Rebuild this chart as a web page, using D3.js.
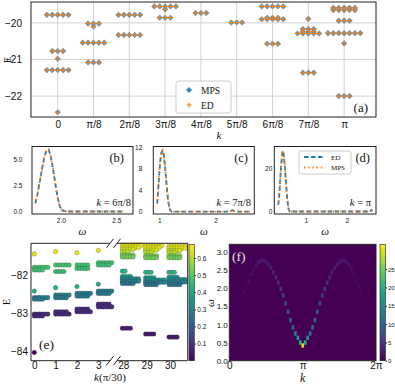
<!DOCTYPE html>
<html>
<head>
<meta charset="utf-8">
<script src="https://cdn.jsdelivr.net/npm/d3@7"></script>
<style>
  body { margin: 0; background: #fff; }
  svg { display: block; font-family: "Liberation Serif", "DejaVu Serif", serif; }
</style>
</head>
<body>
<svg width="395" height="388"></svg>
<script>
// ---------- (a) spectrum vs k, each level is [E, degeneracy] ----------
const kLabelsA = ["0", "π/8", "2π/8", "3π/8", "4π/8", "5π/8", "6π/8", "7π/8", "π"];
const eTicksA = [-22, -21, -20];
const levelsA = [
  [[-19.78, 5], [-20.77, 3], [-20.98, 1], [-21.29, 5], [-22.44, 1]],
  [[-20.02, 3], [-20.10, 1], [-20.54, 5], [-21.08, 3]],
  [[-19.78, 5], [-20.33, 5]],
  [[-19.55, 5], [-19.63, 1], [-19.86, 3]],
  [[-19.73, 3]],
  [[-19.99, 3]],
  [[-19.55, 5], [-19.86, 3], [-19.90, 5], [-20.57, 3]],
  [[-19.89, 1], [-20.17, 3], [-20.24, 3], [-20.29, 5], [-21.36, 3]],
  [[-19.59, 5], [-19.65, 5], [-19.94, 3], [-20.28, 7], [-20.56, 1], [-22.00, 3]],
];

// ---------- (b)-(d) spectral functions ----------
const omegaB = [1.77, 1.79, 1.81, 1.83, 1.85, 1.87, 1.89, 1.91, 1.93, 1.95, 1.97, 1.99, 2.01, 2.05, 2.2, 2.4, 2.57];
const edB = [0.8, 1.7, 2.9, 4.1, 5.2, 5.9, 6.0, 5.3, 4.1, 2.7, 1.4, 0.5, 0.1, 0, 0, 0, 0];
const mpsB = [0.8, 1.7, 2.9, 4.1, 5.2, 5.9, 6.0, 5.3, 4.1, 2.7, 1.4, 0.5, 0.1, 0, 0, 0, 0];

const omegaC = [0.965, 0.98, 1.0, 1.02, 1.04, 1.06, 1.08, 1.1, 1.12, 1.14, 1.16, 1.18, 1.2, 1.22, 1.5, 2.0, 2.2, 2.27, 2.3, 2.33, 2.4, 2.62];
const edC = [1.5, 3.8, 7.0, 9.6, 11.0, 11.4, 10.6, 8.8, 6.3, 3.8, 1.9, 0.7, 0.15, 0, 0, 0, 0, 0.1, 0.25, 0.1, 0, 0];
const mpsC = [1.5, 3.8, 7.0, 9.6, 11.0, 11.4, 10.6, 8.8, 6.3, 3.8, 1.9, 0.7, 0.15, 0, 0, 0, 0, 0.1, 0.25, 0.1, 0, 0];

const omegaD = [0.33, 0.36, 0.39, 0.42, 0.44, 0.46, 0.49, 0.52, 0.55, 0.58, 0.61, 1.0, 2.0, 2.5, 2.57, 2.6, 2.63];
const edD = [3, 9, 18, 25.5, 28, 26.5, 21, 13, 5.5, 1.2, 0, 0, 0, 0, 0.3, 0.6, 0.3];
const mpsD = [3, 9, 18, 25.5, 28, 26.5, 21, 13, 5.5, 1.2, 0, 0, 0, 0, 0.3, 0.6, 0.3];

// ---------- (e) spectrum, rows are [E, degeneracy, colour value] ----------
const kTicksE = [0, 1, 2, 3, 28, 29, 30];
const eTicksE = [-84, -83, -82];
const cbTicksE = [0.1, 0.2, 0.3, 0.4, 0.5, 0.6];
const levelsE = [
  [[-81.45, 1, 0.65], [-81.80, 6, 0.48], [-81.87, 4, 0.47], [-82.42, 1, 0.42], [-82.59, 6, 0.29], [-82.63, 4, 0.28], [-83.02, 6, 0.09], [-83.07, 4, 0.08], [-84.02, 1, 0.0]],
  [[-81.39, 1, 0.65], [-81.74, 6, 0.48], [-81.91, 4, 0.46], [-82.33, 1, 0.42], [-82.52, 6, 0.29], [-82.59, 5, 0.27], [-82.96, 5, 0.09], [-83.02, 6, 0.08]],
  [[-81.42, 1, 0.65], [-81.74, 5, 0.48], [-81.83, 5, 0.47], [-82.30, 1, 0.42], [-82.48, 6, 0.29], [-82.55, 5, 0.27], [-82.89, 5, 0.09], [-82.96, 6, 0.08]],
  [[-81.36, 1, 0.65], [-81.68, 6, 0.48], [-81.74, 5, 0.47], [-82.24, 1, 0.42], [-82.42, 6, 0.29], [-82.48, 5, 0.27], [-82.76, 5, 0.09], [-82.83, 6, 0.08]],
  [[-81.22, 8, 0.66], [-81.28, 7, 0.65], [-81.33, 5, 0.63], [-81.39, 3, 0.61], [-81.48, 5, 0.54], [-81.53, 5, 0.53], [-81.90, 2, 0.44], [-82.04, 4, 0.37], [-82.10, 7, 0.33], [-82.16, 7, 0.29], [-82.22, 5, 0.25], [-83.39, 4, 0.05]],
  [[-81.24, 7, 0.66], [-81.29, 6, 0.65], [-81.35, 5, 0.63], [-81.41, 3, 0.61], [-81.50, 5, 0.54], [-81.55, 5, 0.53], [-81.93, 3, 0.44], [-82.07, 4, 0.37], [-82.13, 8, 0.33], [-82.19, 8, 0.29], [-82.25, 5, 0.25], [-83.54, 4, 0.05]],
  [[-81.25, 7, 0.66], [-81.30, 7, 0.65], [-81.36, 5, 0.63], [-81.41, 3, 0.61], [-81.50, 5, 0.54], [-81.55, 5, 0.53], [-81.93, 3, 0.44], [-82.06, 4, 0.37], [-82.12, 7, 0.33], [-82.18, 7, 0.29], [-82.25, 5, 0.25], [-83.62, 4, 0.05]],
];

// ---------- (f) dynamical structure factor, k = n*pi/30 ----------
const peakOmegaF = [1.40, 1.42, 1.46, 1.52, 1.61, 1.75, 1.92, 2.06, 2.20, 2.38, 2.52, 2.64, 2.72, 2.76, 2.76, 2.72, 2.65, 2.56, 2.44, 2.30, 2.15, 1.98, 1.80, 1.58, 1.35, 1.12, 0.92, 0.75, 0.63, 0.50, 0.42,
  0.50, 0.63, 0.75, 0.92, 1.12, 1.35, 1.58, 1.80, 1.98, 2.15, 2.30, 2.44, 2.56, 2.65, 2.72, 2.76, 2.76, 2.72, 2.64, 2.52, 2.38, 2.20, 2.06, 1.92, 1.75, 1.61, 1.52, 1.46, 1.42, 1.40];
const peakWeightF = [0.2, 0.2, 0.2, 0.3, 0.3, 0.4, 0.5, 0.7, 0.9, 1.1, 1.3, 1.5, 1.7, 1.8, 1.9, 2.0, 2.2, 2.5, 2.9, 3.4, 4.1, 4.9, 5.9, 7.0, 8.5, 9.5, 11, 13, 16, 20, 30,
  20, 16, 13, 11, 9.5, 8.5, 7.0, 5.9, 4.9, 4.1, 3.4, 2.9, 2.5, 2.2, 2.0, 1.9, 1.8, 1.7, 1.5, 1.3, 1.1, 0.9, 0.7, 0.5, 0.4, 0.3, 0.3, 0.2, 0.2, 0.2];
const omegaTicksF = [0, 0.5, 1.0, 1.5, 2.0, 2.5, 3.0];
const cbTicksF = [0, 5, 10, 15, 20, 25];

const svg = d3.select("svg");
const blue = "#1f77b4", orange = "#ff7f0e";

function styleAxis(sel, size) {
  sel.select(".domain").remove();
  sel.selectAll("text").attr("font-size", size).attr("fill", "#111");
  sel.selectAll("line").attr("stroke", "#222");
}
function box(x0, y0, x1, y1) {
  svg.append("rect").attr("x", x0).attr("y", y0).attr("width", x1 - x0).attr("height", y1 - y0)
    .attr("fill", "none").attr("stroke", "#222").attr("stroke-width", 1);
}
function label(x, y, parts, size, anchor, color) {
  const t = svg.append("text").attr("x", x).attr("y", y).attr("font-size", size)
    .attr("text-anchor", anchor || "start").attr("fill", color || "#111");
  parts.forEach(p => t.append("tspan").attr("font-style", p[1] ? "italic" : "normal").text(p[0]));
  return t;
}

// ================= (a) =================
const xA = d3.scaleLinear().domain([-0.745, 8.89]).range([31, 376]);
const yA = d3.scaleLinear().domain([-22.57, -19.43]).range([117, 2]);
const gA = svg.append("g");
gA.selectAll(".gx").data(d3.range(kLabelsA.length)).join("line")
  .attr("x1", d => xA(d)).attr("x2", d => xA(d)).attr("y1", 2).attr("y2", 117)
  .attr("stroke", "#d3d3d3").attr("stroke-width", 1);
gA.selectAll(".gy").data(eTicksA).join("line")
  .attr("x1", 31).attr("x2", 376).attr("y1", d => yA(d)).attr("y2", d => yA(d))
  .attr("stroke", "#d3d3d3").attr("stroke-width", 1);

const ptsA = [];
levelsA.forEach((lv, i) => lv.forEach(([e, n]) => {
  for (let j = 0; j < n; j++) ptsA.push({ x: xA(i) + (j - (n - 1) / 2) * 5.4, y: yA(e) });
}));
const diamond = d3.symbol(d3.symbolSquare, 19)();
const plus = "M-2.6,0H2.6M0,-2.6V2.6";
gA.selectAll(".mps").data(ptsA).join("path").attr("d", diamond)
  .attr("transform", d => `translate(${d.x},${d.y}) rotate(45)`).attr("fill", "#4b93c8");
gA.selectAll(".ed").data(ptsA).join("path").attr("d", plus)
  .attr("transform", d => `translate(${d.x},${d.y})`).attr("stroke", orange).attr("stroke-width", 1);

gA.append("g").attr("transform", "translate(0,117)")
  .call(d3.axisBottom(xA).tickValues(d3.range(kLabelsA.length)).tickFormat(i => kLabelsA[i]).tickSize(0).tickPadding(4))
  .call(styleAxis, 10);
gA.append("g").attr("transform", "translate(31,0)")
  .call(d3.axisLeft(yA).tickValues(eTicksA).tickFormat(d => "−" + Math.abs(d)).tickSize(0).tickPadding(9))
  .call(styleAxis, 10);
box(31, 2, 376, 117);
label(219, 139, [["k", true]], 11, "middle");
label(11, 60, [["E", false]], 10, "middle").attr("transform", "rotate(-90,11,60)");

// legend (a)
svg.append("rect").attr("x", 176).attr("y", 81).attr("width", 55).attr("height", 32).attr("rx", 2.5)
  .attr("fill", "#fff").attr("fill-opacity", 0.85).attr("stroke", "#ccc");
svg.append("path").attr("d", diamond).attr("transform", "translate(189,90) rotate(45)").attr("fill", "#3d88c2");
svg.append("path").attr("d", plus).attr("transform", "translate(189,105)").attr("stroke", orange).attr("stroke-width", 1.2);
label(201, 93.5, [["MPS", false]], 9.5);
label(201, 108.5, [["ED", false]], 9.5);
label(368, 112, [["(a)", false]], 13, "end");

// ================= (b)-(d) =================
function specPanel(cfg) {
  const x = d3.scaleLinear().domain(cfg.xd).range([cfg.x0, cfg.x1]);
  const y = d3.scaleLinear().domain(cfg.yd).range([214, 146.5]);
  const line = d3.line().x(d => x(d[0])).y(d => y(d[1]));
  svg.append("path").datum(d3.zip(cfg.om, cfg.ed)).attr("d", line).attr("fill", "none")
    .attr("stroke", blue).attr("stroke-width", 1.8).attr("stroke-dasharray", "4.5,2.5");
  svg.append("path").datum(d3.zip(cfg.om, cfg.mps)).attr("d", line).attr("fill", "none")
    .attr("stroke", orange).attr("stroke-width", 1.8).attr("stroke-dasharray", "1.4,2.4")
    .attr("stroke-dashoffset", -3.2).attr("stroke-linecap", "butt");
  svg.append("g").attr("transform", "translate(0,214)")
    .call(d3.axisBottom(x).tickValues(cfg.xt).tickFormat(cfg.xf).tickSize(0).tickPadding(4.5))
    .call(styleAxis, 6.5);
  svg.append("g").attr("transform", `translate(${cfg.x0},0)`)
    .call(d3.axisLeft(y).tickValues(cfg.yt).tickFormat(cfg.yf).tickSize(0).tickPadding(cfg.pad))
    .call(styleAxis, 6.5);
  box(cfg.x0, 146.5, cfg.x1, 214);
  label((cfg.x0 + cfg.x1) / 2, 235, [["ω", true]], 11, "middle");
}
specPanel({ x0: 32, x1: 133, xd: [1.74, 2.65], yd: [-0.24, 6.29], om: omegaB, ed: edB, mps: mpsB,
  xt: [2.0, 2.5], xf: d3.format(".1f"), yt: [0, 2.5, 5], yf: d3.format(".1f"), pad: 9.5 });
specPanel({ x0: 153.3, x1: 254.3, xd: [0.895, 2.686], yd: [-0.46, 12.13], om: omegaC, ed: edC, mps: mpsC,
  xt: [1, 2], xf: d3.format("d"), yt: [0, 4, 8, 12], yf: d3.format("d"), pad: 11 });
specPanel({ x0: 274.3, x1: 376, xd: [0.234, 2.71], yd: [-1.14, 29.9], om: omegaD, ed: edD, mps: mpsD,
  xt: [1, 2], xf: d3.format("d"), yt: [0, 20], yf: d3.format("d"), pad: 2 });

label(124, 162, [["(b)", false]], 12.5, "end");
label(248, 162, [["(c)", false]], 12.5, "end");
label(370, 162, [["(d)", false]], 12.5, "end");
label(131, 206, [["k", true], [" = 6π/8", false]], 10.5, "end");
label(251, 206, [["k", true], [" = 7π/8", false]], 10.5, "end");
label(371, 206, [["k", true], [" = π", false]], 10.5, "end");

// legend (d)
svg.append("rect").attr("x", 299).attr("y", 151).attr("width", 52).attr("height", 23).attr("rx", 2)
  .attr("fill", "#fff").attr("fill-opacity", 0.85).attr("stroke", "#ccc");
svg.append("line").attr("x1", 304).attr("x2", 323).attr("y1", 157).attr("y2", 157)
  .attr("stroke", blue).attr("stroke-width", 1.8).attr("stroke-dasharray", "4.5,2.5");
svg.append("line").attr("x1", 304).attr("x2", 323).attr("y1", 167.5).attr("y2", 167.5)
  .attr("stroke", orange).attr("stroke-width", 1.8).attr("stroke-dasharray", "1.4,2.8");
label(331, 159.5, [["ED", false]], 7);
label(331, 170, [["MPS", false]], 7);

// ================= (e) =================
const xE = d3.scaleLinear().domain([0, 3, 28, 30]).range([34.3, 98.3, 123.3, 170]);
const yE = d3.scaleLinear().domain([-84.235, -81.173]).range([360.7, 243.3]);
const cE = d3.scaleSequential(d3.interpolateViridis).domain([0, 0.68]);
const ptsE = [];
levelsE.forEach((lv, i) => lv.forEach(([e, n, c]) => {
  for (let j = 0; j < n; j++) ptsE.push({ x: xE(kTicksE[i]) - (i > 3 ? 1 : 0) + j * 2.7, y: yE(e), c: c });
}));
svg.append("g").selectAll("circle").data(ptsE).join("circle")
  .attr("cx", d => d.x).attr("cy", d => d.y).attr("r", 2.3)
  .attr("fill", d => cE(d.c)).attr("stroke", "#222").attr("stroke-opacity", 0.55).attr("stroke-width", 0.4);

svg.append("g").attr("transform", "translate(0,360.7)")
  .call(d3.axisBottom(xE).tickValues(kTicksE).tickFormat(d3.format("d")).tickSize(0).tickPadding(1.5))
  .call(styleAxis, 10);
svg.append("g").attr("transform", "translate(31,0)")
  .call(d3.axisLeft(yE).tickValues(eTicksE).tickFormat(d => "−" + Math.abs(d)).tickSize(0).tickPadding(3))
  .call(styleAxis, 10);
// broken frame
const frameE = svg.append("g").attr("fill", "none").attr("stroke", "#222").attr("stroke-width", 1);
frameE.append("path").attr("d", "M110,243.3H31V360.7H110");
frameE.append("path").attr("d", "M117,243.3H187.7V360.7H117");
[[110, 243.3], [117, 243.3], [110, 360.7], [117, 360.7]].forEach(([bx, by]) => {
  frameE.append("line").attr("x1", bx - 3.5).attr("y1", by + 4.5).attr("x2", bx + 3.5).attr("y2", by - 4.5);
});
label(110, 381, [["k", true], ["(π/30)", false]], 11, "middle");
label(10, 302, [["E", false]], 10, "middle").attr("transform", "rotate(-90,10,302)");
label(39, 349, [["(e)", false]], 13.5);

// colour bars
const defs = svg.append("defs");
const grad = defs.append("linearGradient").attr("id", "vir").attr("x1", 0).attr("y1", 1).attr("x2", 0).attr("y2", 0);
d3.range(0, 1.001, 0.05).forEach(t => grad.append("stop").attr("offset", t).attr("stop-color", d3.interpolateViridis(t)));

const yCbE = d3.scaleLinear().domain([0, 0.68]).range([360.7, 244.3]);
svg.append("rect").attr("x", 189).attr("y", 244.3).attr("width", 5.3).attr("height", 116.4).attr("fill", "url(#vir)")
  .attr("stroke", "#222").attr("stroke-width", 0.6);
svg.append("g").attr("transform", "translate(194.3,0)")
  .call(d3.axisRight(yCbE).tickValues(cbTicksE).tickFormat(d3.format(".1f")).tickSize(1.5).tickPadding(1.5))
  .call(styleAxis, 6.5);

// ================= (f) =================
const xF = d3.scaleLinear().domain([0, 2 * Math.PI]).range([229.3, 376]);
const yF = d3.scaleLinear().domain([0, 3.21]).range([360.7, 244.3]);
const cF = d3.scaleSequential(d3.interpolateViridis).domain([0, 31.8]);
defs.append("clipPath").attr("id", "clipF").append("rect")
  .attr("x", 229.3).attr("y", 244.3).attr("width", 146.7).attr("height", 116.4);
defs.append("filter").attr("id", "soft").attr("x", "-50%").attr("y", "-50%").attr("width", "200%").attr("height", "200%")
  .append("feGaussianBlur").attr("stdDeviation", 0.6);
const gF = svg.append("g").attr("clip-path", "url(#clipF)");
gF.append("rect").attr("x", 229.3).attr("y", 244.3).attr("width", 146.7).attr("height", 116.4).attr("fill", cF(0));
const kStep = Math.PI / 30;
const colW = xF(kStep) - xF(0);
gF.append("g").attr("filter", "url(#soft)").selectAll("rect").data(peakOmegaF.map((w, n) => ({ k: n * kStep, w: w, s: peakWeightF[n] })))
  .join("rect")
  .attr("x", d => xF(d.k) - colW / 2).attr("width", colW + 0.2)
  .attr("y", d => yF(d.w + 0.06)).attr("height", d => yF(d.w - 0.06) - yF(d.w + 0.06))
  .attr("fill", d => cF(d.s));

svg.append("g").attr("transform", "translate(0,360.7)")
  .call(d3.axisBottom(xF).tickValues([0, Math.PI, 2 * Math.PI]).tickFormat((d, i) => ["0", "π", "2π"][i]).tickSize(0).tickPadding(1.5))
  .call(styleAxis, 10);
svg.append("g").attr("transform", "translate(229.3,0)")
  .call(d3.axisLeft(yF).tickValues(omegaTicksF).tickFormat(d3.format(".1f")).tickSize(0).tickPadding(1.5))
  .call(styleAxis, 8);
box(229.3, 244.3, 376, 360.7);
label(302.7, 382, [["k", true]], 12, "middle");
label(214, 303, [["ω", true]], 11, "middle").attr("transform", "rotate(-90,214,303)");
label(232, 261, [["(f)", false]], 13.5, "start", "#e6e6e6");

const yCbF = d3.scaleLinear().domain([0, 31.8]).range([360.7, 244.3]);
svg.append("rect").attr("x", 380).attr("y", 244.3).attr("width", 5.5).attr("height", 116.4).attr("fill", "url(#vir)")
  .attr("stroke", "#222").attr("stroke-width", 0.6);
svg.append("g").attr("transform", "translate(385.5,0)")
  .call(d3.axisRight(yCbF).tickValues(cbTicksF).tickFormat(d3.format("d")).tickSize(1.5).tickPadding(1))
  .call(styleAxis, 6);
</script>
</body>
</html>
